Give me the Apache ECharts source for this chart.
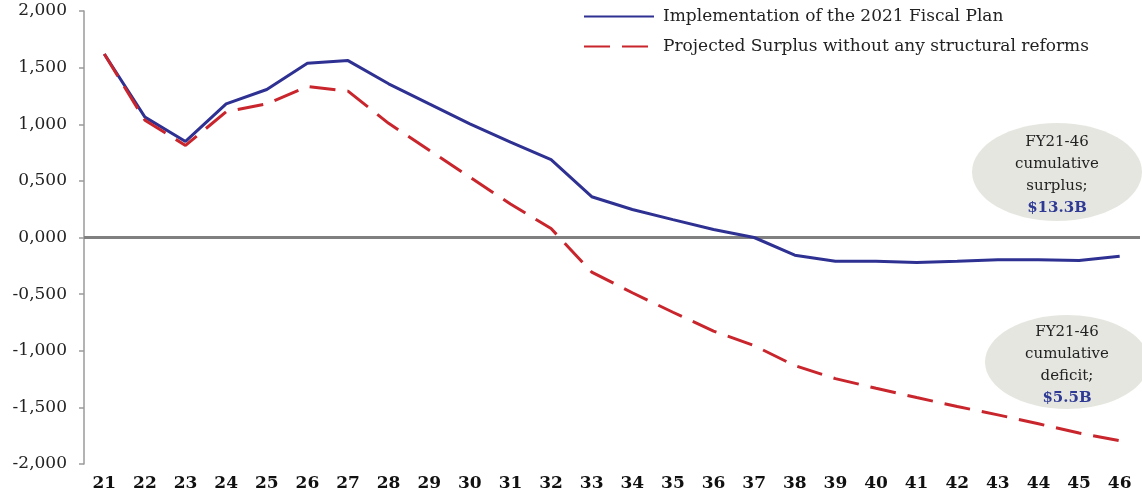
<!DOCTYPE html>
<html>
<head>
<meta charset="utf-8">
<script src="https://cdn.jsdelivr.net/npm/echarts@6/dist/echarts.min.js"></script>
<style>
html,body{margin:0;padding:0;background:#fff;}
#chart{width:1142px;height:497px;}
</style>
</head>
<body>
<div id="chart"></div>
<script>
var years = ['21','22','23','24','25','26','27','28','29','30','31','32','33','34','35','36','37','38','39','40','41','42','43','44','45','46'];
var implementation = [1620, 1063, 848, 1180, 1307, 1538, 1562, 1357, 1180, 1004, 842, 687, 360, 247, 158, 70, 0, -156, -209, -209, -220, -209, -197, -197, -203, -165];
var projected = [1620, 1035, 813, 1110, 1180, 1333, 1292, 1008, 770, 533, 296, 79, -305, -488, -660, -826, -955, -1131, -1246, -1331, -1413, -1492, -1566, -1645, -1727, -1795];
var yTickValues = [-2000, -1500, -1000, -500, 0, 500, 1000, 1500, 2000];
var yTickLabels = ['-2,000', '-1,500', '-1,000', '-0,500', '0,000', '0,500', '1,000', '1,500', '2,000'];
var seriesNames = ['Implementation of the 2021 Fiscal Plan', 'Projected Surplus without any structural reforms'];
var surplusNote = ['FY21-46', 'cumulative', 'surplus;', '$13.3B'];
var deficitNote = ['FY21-46', 'cumulative', 'deficit;', '$5.5B'];

var serif = '"DejaVu Serif", "Liberation Serif", serif';
var chart = echarts.init(document.getElementById('chart'));

function noteText(lines) {
  return '{a|' + lines[0] + '}\n{a|' + lines[1] + '}\n{a|' + lines[2] + '}\n{b|' + lines[3] + '}';
}
var noteRich = {
  a: { fontFamily: serif, fontSize: 15, fill: '#222', lineHeight: 22, align: 'center' },
  b: { fontFamily: serif, fontSize: 15, fontWeight: 'bold', fill: '#2e3a94', lineHeight: 22, align: 'center' }
};

chart.setOption({
  animation: false,
  backgroundColor: '#fff',
  grid: { left: 84, right: 2, top: 11, bottom: 33, containLabel: false },
  legend: {
    orient: 'vertical',
    left: 583,
    top: 8,
    padding: 0,
    itemWidth: 70,
    itemHeight: 14,
    itemGap: 13,
    itemStyle: { opacity: 0 },
    textStyle: { fontFamily: serif, fontSize: 17, color: '#222', padding: [0, 0, 0, 4] },
    data: seriesNames
  },
  xAxis: {
    type: 'category',
    data: years,
    boundaryGap: true,
    axisLine: { show: false },
    axisTick: { show: false },
    axisLabel: { fontFamily: serif, fontSize: 17, fontWeight: 'bold', color: '#111', margin: 11 }
  },
  yAxis: {
    type: 'value',
    min: -2000,
    max: 2000,
    interval: 500,
    axisLine: { show: true, lineStyle: { color: '#9a9a9a', width: 1.5 } },
    axisTick: { show: true, length: 5, lineStyle: { color: '#9a9a9a', width: 1.5 } },
    splitLine: { show: false },
    axisLabel: {
      fontFamily: serif, fontSize: 17, color: '#222', margin: 17,
      formatter: function (v) { var i = yTickValues.indexOf(v); return i >= 0 ? yTickLabels[i] : ''; }
    }
  },
  series: [
    {
      name: seriesNames[0],
      type: 'line',
      data: implementation,
      symbol: 'none',
      z: 3,
      lineStyle: { color: '#2e3192', width: 3 },
      itemStyle: { color: '#2e3192' },
      markLine: {
        silent: true,
        symbol: 'none',
        label: { show: false },
        lineStyle: { color: '#808080', width: 3, type: 'solid' },
        data: [{ yAxis: 0 }],
        z: 1
      }
    },
    {
      name: seriesNames[1],
      type: 'line',
      data: projected,
      symbol: 'none',
      z: 4,
      lineStyle: { color: '#c9252c', width: 3, type: [26, 12] },
      itemStyle: { color: '#c9252c' }
    }
  ],
  graphic: [
    { type: 'ellipse', shape: { cx: 1057, cy: 172, rx: 85, ry: 49 }, style: { fill: '#e6e6e1' }, z: 10 },
    { type: 'text', x: 1057, y: 131, style: { text: noteText(surplusNote), rich: noteRich, align: 'center', verticalAlign: 'top' }, z: 11 },
    { type: 'ellipse', shape: { cx: 1067, cy: 362, rx: 82, ry: 47 }, style: { fill: '#e6e6e1' }, z: 10 },
    { type: 'text', x: 1067, y: 321, style: { text: noteText(deficitNote), rich: noteRich, align: 'center', verticalAlign: 'top' }, z: 11 }
  ]
});
</script>
</body>
</html>
